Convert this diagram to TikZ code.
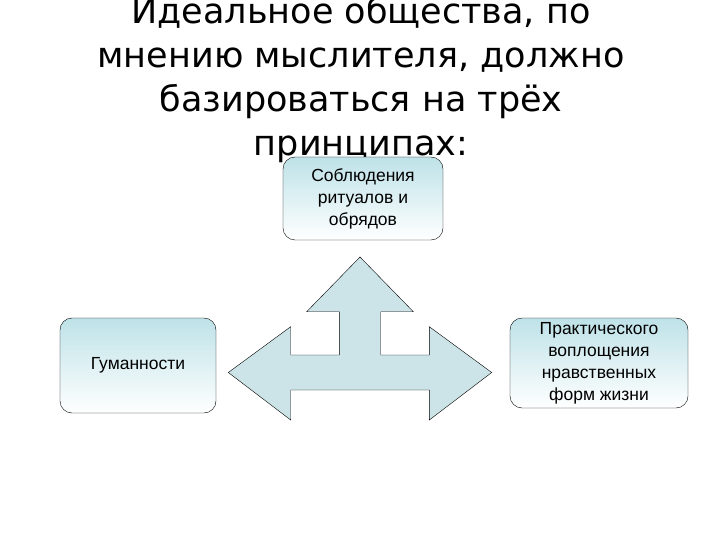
\documentclass[tikz,border=0pt]{standalone}
\usepackage{fontspec}
\setmainfont{Liberation Sans}
\newfontfamily\titlefont{DejaVu Sans}
\usetikzlibrary{positioning}
\definecolor{boxtop}{RGB}{190,226,232}
\definecolor{arrowfill}{RGB}{204,228,232}

\begin{document}
\begin{tikzpicture}[x=1pt, y=-1pt,
    principle/.style={draw, rounded corners=12pt, top color=boxtop, bottom color=white,
      align=center, font=\fontsize{17.5}{22}\selectfont}]
    \useasboundingbox (0,0) rectangle (720,540);
    \node[align=center, font=\titlefont\fontsize{35}{44}\selectfont] (title) at (361,80)
      {Идеальное общества, по\\мнению мыслителя, должно\\базироваться на трёх\\принципах:};
    \node[principle, minimum width=160pt, minimum height=83pt] (rites) at (363,198.5)
      {Соблюдения\\ритуалов и\\обрядов};
    \node[principle, minimum width=156pt, minimum height=95pt] (humanity) at (138,365.5)
      {Гуманности};
    \node[principle, minimum width=178pt, minimum height=90pt] (practice) at (599,363)
      {Практического\\воплощения\\нравственных\\форм жизни};
    \draw[fill=arrowfill] (360,257) -- (413.3,311.7) -- (380.7,311.7) -- (380.7,355)
      -- (429.3,355) -- (429.3,326.7) -- (491.7,372.5) -- (429.3,420) -- (429.3,390)
      -- (290.7,390) -- (290.7,420) -- (228.3,372.5) -- (290.7,326.7) -- (290.7,355)
      -- (339.3,355) -- (339.3,311.7) -- (306.7,311.7) -- cycle;
\end{tikzpicture}
\end{document}
